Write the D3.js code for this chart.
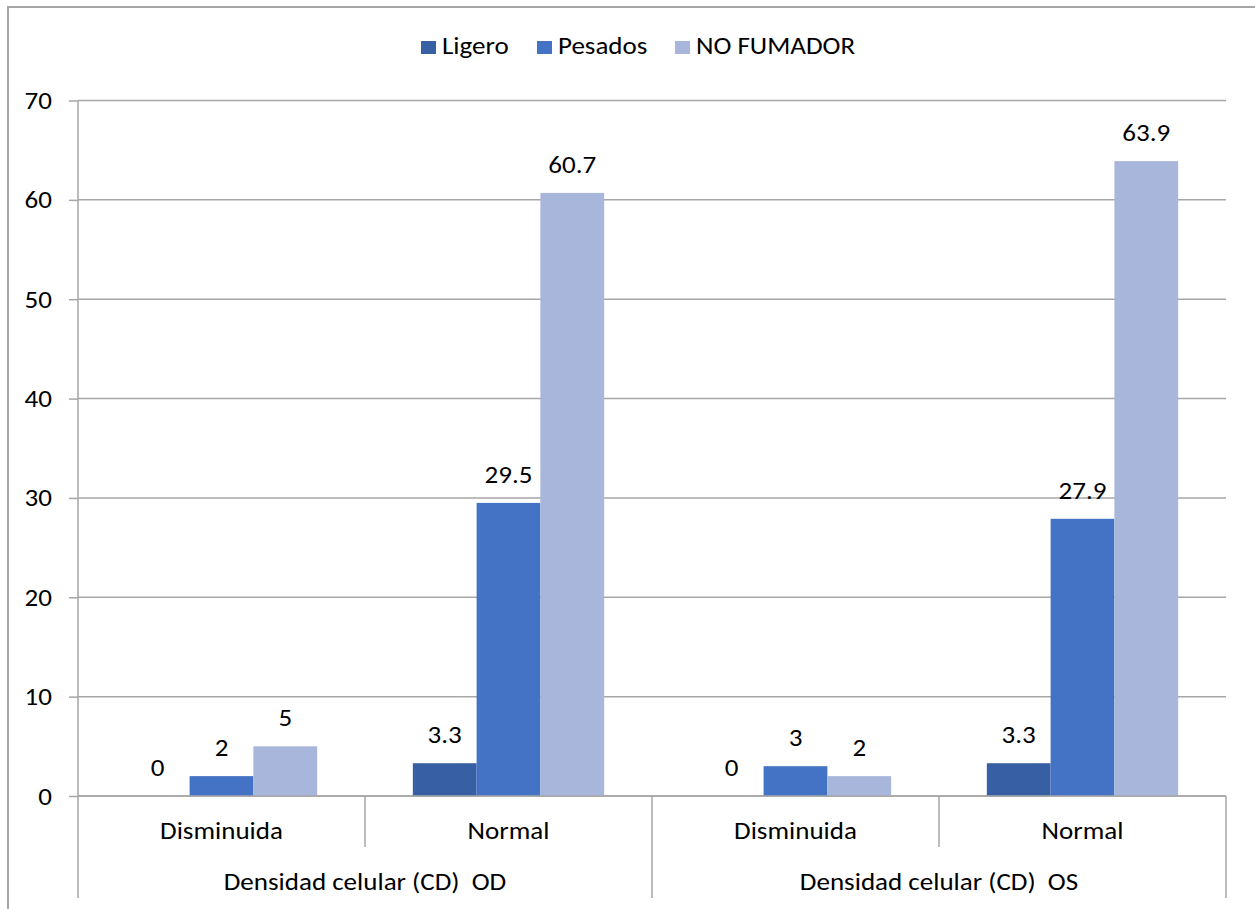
<!DOCTYPE html>
<html>
<head>
<meta charset="utf-8">
<script src="https://cdn.jsdelivr.net/npm/d3@7"></script>
<style>
  html, body { margin: 0; padding: 0; background: #ffffff; }
  svg { display: block; }
  text { font-family: Calibri, Carlito, "Open Sans", sans-serif; fill: #000; font-size: 23.5px; white-space: pre; }
</style>
</head>
<body>
<svg id="chart" width="1255" height="909"></svg>
<script>
// Series and categories
const series = ["Ligero", "Pesados", "NO FUMADOR"];
const groups = ["Densidad celular (CD)  OD", "Densidad celular (CD)  OS"];
const subcats = ["Disminuida", "Normal"];

// Values per series, in category order: OD-Disminuida, OD-Normal, OS-Disminuida, OS-Normal
const ligero = [0, 3.3, 0, 3.3];
const pesados = [2, 29.5, 3, 27.9];
const noFumador = [5, 60.7, 2, 63.9];

const yTicks = [0, 10, 20, 30, 40, 50, 60, 70];
const colors = ["#3760A4", "#4472C4", "#A8B6DB"];

const svg = d3.select("#chart");
const W = 1255, H = 909;
const m = { left: 78, right: 1226, top: 100.5, bottom: 796 };
const SX = 1.15;          // horizontal stretch of the lettering
const grid = "#A6A6A6";

// Places a text whose glyphs are widened by SX around its anchor point
function label(parent, x, y, str, anchor) {
  parent.append("g")
    .attr("transform", `translate(${x},${y}) scale(${SX},1)`)
    .append("text")
    .attr("text-anchor", anchor || "middle")
    .text(str);
}

// Outer frame
svg.append("path")
  .attr("d", `M8,${H + 5} V7 H${W + 5}`)
  .attr("fill", "none").attr("stroke", grid).attr("stroke-width", 2);

const cats = [];
groups.forEach(g => subcats.forEach(s => cats.push(g + "|" + s)));
const valuesBySeries = [ligero, pesados, noFumador];

const x = d3.scaleBand().domain(cats).range([m.left, m.right]).padding(0);
const xs = d3.scaleBand().domain(series).range([0, x.bandwidth()])
  .paddingInner(0).paddingOuter(0.75);
const y = d3.scaleLinear().domain([0, 70]).range([m.bottom, m.top]);

// Gridlines
svg.append("g").selectAll("line").data(yTicks).join("line")
  .attr("x1", m.left).attr("x2", m.right)
  .attr("y1", d => y(d)).attr("y2", d => y(d))
  .attr("stroke", grid).attr("stroke-width", 1.5);

// Y axis: ticks from the axis generator, labels widened like the rest of the text
const yAxis = svg.append("g").attr("transform", `translate(${m.left},0)`)
  .call(d3.axisLeft(y).tickValues(yTicks).tickSizeInner(9).tickSizeOuter(0).tickPadding(16));
yAxis.select(".domain").remove();
yAxis.selectAll(".tick line").attr("stroke", grid).attr("stroke-width", 1.5);
yAxis.selectAll(".tick text").remove();
yAxis.selectAll(".tick").each(function(d) {
  label(d3.select(this), -26, 8, String(d), "end");
});
svg.append("line").attr("x1", m.left).attr("x2", m.left)
  .attr("y1", m.top).attr("y2", 898)
  .attr("stroke", grid).attr("stroke-width", 1.5);

// Bars
const rows = [];
cats.forEach((c, ci) => series.forEach((s, si) => {
  rows.push({ cat: c, series: s, value: valuesBySeries[si][ci], color: colors[si] });
}));

svg.append("g").selectAll("rect").data(rows).join("rect")
  .attr("x", d => x(d.cat) + xs(d.series))
  .attr("width", xs.bandwidth())
  .attr("y", d => y(d.value))
  .attr("height", d => y(0) - y(d.value))
  .attr("fill", d => d.color);

// Data labels
const dl = svg.append("g");
rows.forEach(d => {
  label(dl, x(d.cat) + xs(d.series) + xs.bandwidth() / 2, y(d.value) - 20, String(d.value));
});

// Category axis line
svg.append("line").attr("x1", m.left).attr("x2", m.right)
  .attr("y1", m.bottom).attr("y2", m.bottom)
  .attr("stroke", grid).attr("stroke-width", 1.5);

// Separators between sub-categories and between groups
const gw = (m.right - m.left) / groups.length;
const sepShort = cats.map(c => x(c)).filter((v, i) => i % subcats.length !== 0);
const sepLong = d3.range(groups.length + 1).map(i => m.left + i * gw);
svg.append("g").selectAll("line").data(sepShort).join("line")
  .attr("x1", d => d).attr("x2", d => d).attr("y1", m.bottom).attr("y2", 847)
  .attr("stroke", grid).attr("stroke-width", 1.5);
svg.append("g").selectAll("line").data(sepLong.slice(1)).join("line")
  .attr("x1", d => d).attr("x2", d => d).attr("y1", m.bottom).attr("y2", 898)
  .attr("stroke", grid).attr("stroke-width", 1.5);

// Sub-category labels
const sl = svg.append("g");
cats.forEach(c => label(sl, x(c) + x.bandwidth() / 2, 839, c.split("|")[1]));

// Group labels
const gl = svg.append("g");
groups.forEach((g, i) => label(gl, m.left + gw * (i + 0.5), 890, g));

// Legend
const legendX = [421, 537, 675];
const lg = svg.append("g");
series.forEach((s, i) => {
  lg.append("rect").attr("x", legendX[i]).attr("y", 41).attr("width", 15).attr("height", 13)
    .attr("fill", colors[i]);
  label(lg, legendX[i] + 21, 54, s, "start");
});
</script>
</body>
</html>
